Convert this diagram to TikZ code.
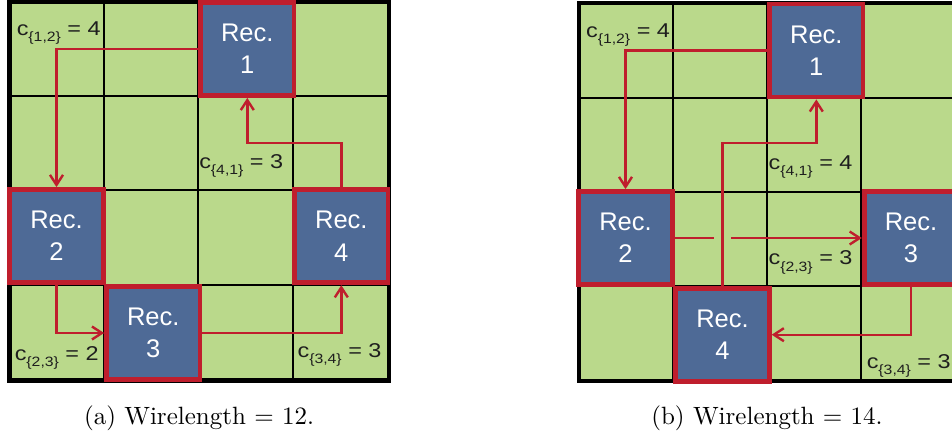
\documentclass[tikz,border=0pt]{standalone}
\usepackage{fontspec}
\newfontfamily\arialfont{Liberation Sans}
\usetikzlibrary{arrows.meta,calc}

\definecolor{cellgreen}{RGB}{186,217,139}
\definecolor{recblue}{RGB}{78,106,150}
\definecolor{recred}{RGB}{191,30,45}
\definecolor{inkdark}{RGB}{30,30,30}

% cost label: c_{i,j} = n
\newcommand\costlabel[2]{\scalebox{1.17}[1]{\fontsize{20}{24}\selectfont c\raisebox{-6pt}{\fontsize{13.5}{16}\selectfont\{#1\}} = #2}}

\tikzset{
  gridline/.style={draw=black, line width=2pt},
  gridframe/.style={draw=black, line width=4.3pt},
  recbox/.style={rectangle, draw=recred, fill=recblue, line width=4.8pt,
    minimum width=93.5pt, minimum height=93pt, inner sep=0pt, align=center,
    text=white, font=\arialfont\fontsize{25.5}{32.3}\selectfont},
  wire/.style={draw=recred, line width=2.4pt, -{Straight Barb[length=10pt,width=13pt]}},
  cost/.style={anchor=base, inner sep=0pt, text=inkdark, font=\arialfont},
  caption/.style={anchor=base, inner sep=0pt},
}

\begin{document}
\begin{tikzpicture}[x=1pt,y=-1pt]
\useasboundingbox (0,0) rectangle (952,438);

% ---------- placement (a) ----------
\fill[cellgreen] (9.5,1.5) rectangle (388.7,380.5);
\foreach \x in {104.3,198.3,292.5} \draw[gridline] (\x,1.5) -- (\x,380.5);
\foreach \y in {96,190.5,285} \draw[gridline] (9.5,\y) -- (388.7,\y);
\draw[gridframe] (9.5,1.5) rectangle (388.7,380.5);

\node[recbox] (a1) at (247.3,49) {Rec.\\1};
\node[recbox] (a2) at (56.5,236) {Rec.\\2};
\node[recbox] (a3) at (153.3,333) {Rec.\\3};
\node[recbox] (a4) at (341.3,236.3) {Rec.\\4};

\coordinate (rowa1) at (0,143.3);
\draw[wire] (a1.west) -| (a2.north);
\draw[wire] (a4.north) |- (rowa1 -| a1.south) -- (a1.south);
\draw[wire] (a2.south) |- (a3.west);
\draw[wire] (a3.east) -| (a4.south);

\node[cost] (a12) at (58.7,35.7) {\costlabel{1,2}{4}};
\node[cost] (a41) at (241.2,169) {\costlabel{4,1}{3}};
\node[cost] (a23) at (56.7,360) {\costlabel{2,3}{2}};
\node[cost] (a34) at (339.5,357.3) {\costlabel{3,4}{3}};

\node[caption] (capa) at (199,424.3) {\scalebox{2.5}{(a) Wirelength $=$ 12.}};

% ---------- placement (b) ----------
\fill[cellgreen] (578.7,3.3) rectangle (956,381);
\foreach \x in {673,767,861.3} \draw[gridline] (\x,3.3) -- (\x,381);
\foreach \y in {98,192.5,286} \draw[gridline] (578.7,\y) -- (956,\y);
\draw[gridframe] (578.7,3.3) rectangle (956,381);

\node[recbox] (b1) at (816.3,50.5) {Rec.\\1};
\node[recbox] (b2) at (625.5,238) {Rec.\\2};
\node[recbox] (b3) at (911,238) {Rec.\\3};
\node[recbox] (b4) at (722.5,334.7) {Rec.\\4};

\coordinate (rowb1) at (0,143.3);
\draw[wire] (b1.west) -| (b2.north);
\draw[wire] (b2.east) -- (b3.west);
% break in the 2-3 wire where the 4-1 wire crosses it
\coordinate (hop) at (b2.east -| b4.north);
\fill[cellgreen] ($(hop)+(-8.5,-1.8)$) rectangle ($(hop)+(8.5,1.8)$);
\draw[wire] (b4.north) |- (rowb1 -| b1.south) -- (b1.south);
\draw[wire] (b3.south) |- (b4.east);

\node[cost] (b12) at (628,37.3) {\costlabel{1,2}{4}};
\node[cost] (b41) at (810.5,170) {\costlabel{4,1}{4}};
\node[cost] (b23) at (810.5,265) {\costlabel{2,3}{3}};
\node[cost] (b34) at (908.7,368.3) {\costlabel{3,4}{3}};

\node[caption] (capb) at (767,424.3) {\scalebox{2.5}{(b) Wirelength $=$ 14.}};
\end{tikzpicture}
\end{document}
